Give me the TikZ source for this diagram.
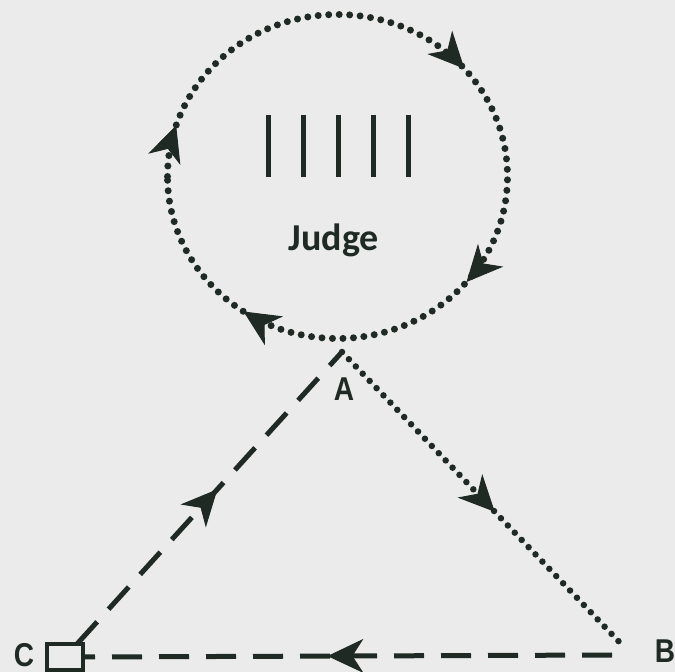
\documentclass[tikz,border=0pt]{standalone}
\usepackage{fontspec}
\setmainfont{Liberation Sans}
\newfontfamily\judgefont{Carlito}
\newfontfamily\lblfont[FakeStretch=0.85]{Liberation Sans}
\usetikzlibrary{arrows.meta,decorations.markings}
\definecolor{ink}{HTML}{1E2A23}
\definecolor{paper}{HTML}{EBEBEB}
\begin{document}
\begin{tikzpicture}[x=1pt,y=1pt,
  dots/.style={draw=ink, line width=7pt, line cap=round, dash pattern=on 0pt off 10.5pt},
  dashes/.style={draw=ink, line width=5pt, dash pattern=on 30pt off 17pt},
  bigtip/.tip={Stealth[length=36pt,width=34pt,inset=11pt,line width=1pt]},
  midarrow/.style={postaction={decorate}, decoration={markings,
     mark=at position #1 with {\arrow[ink]{bigtip}}}},
  lbl/.style={font=\lblfont\bfseries\fontsize{33}{33}\selectfont, text=ink, inner sep=0pt},
  tally/.style={draw=ink, line width=5pt}]
\fill[paper] (0,0) rectangle (675,672);
\useasboundingbox (0,0) rectangle (675,672);

% judge circle (clockwise)
\draw[dots, postaction={decorate}, decoration={markings,
   mark=at position 0.05 with {\arrow[ink]{bigtip}},
   mark=at position 0.386 with {\arrow[ink]{bigtip}},
   mark=at position 0.611 with {\arrow[ink]{bigtip}},
   mark=at position 0.845 with {\arrow[ink]{bigtip}}}]
  (167.5,495.5) arc[start angle=180, end angle=-180, x radius=170, y radius=162];

% tally marks
\foreach \tx in {268,303,338,373,408} \draw[tally] (\tx,557) -- (\tx,495);
\node[font=\judgefont\bfseries\fontsize{38}{38}\selectfont, text=ink] (judge) at (334,432) {Judge};

% vertices
\coordinate (A) at (342,320);
\coordinate (B) at (625,24);
\coordinate (Bd) at (612,17);
\node[draw=ink, line width=4pt, minimum width=36pt, minimum height=26pt, inner sep=0pt] (C) at (65,15) {};
\coordinate (Cup) at (77,28);

\node[lbl] (Alab) at (344,283) {A};
\node[lbl] (Blab) at (665,21) {B};
\node[lbl] (Clab) at (24,17) {C};

% triangle
\draw[dashes, midarrow=0.53] (Cup) -- (A);
\draw[dots, line width=6.5pt, dash pattern=on 0pt off 10pt, midarrow=0.54] (A) -- (B);
\draw[dashes, midarrow=0.54] (Bd) -- (C.east);
\end{tikzpicture}
\end{document}
